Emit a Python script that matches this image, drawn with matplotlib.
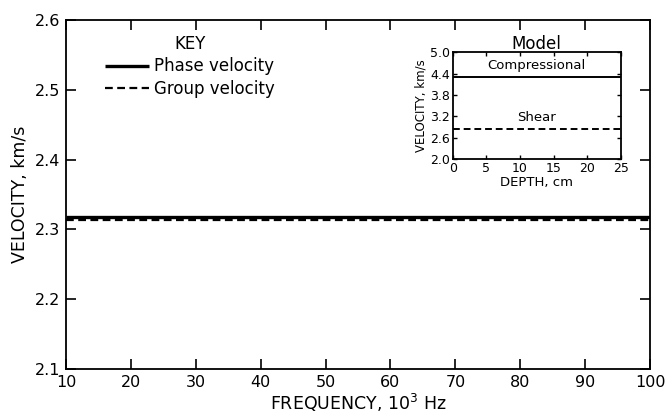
import matplotlib
matplotlib.use("Agg")
import matplotlib.pyplot as plt

plt.rcParams['font.family'] = ['DejaVu Sans']

# Main chart data
frequency = [10, 20, 30, 40, 50, 60, 70, 80, 90, 100]
phase_velocity = [2.318, 2.318, 2.318, 2.318, 2.318, 2.318, 2.318, 2.318, 2.318, 2.318]
group_velocity = [2.314, 2.314, 2.314, 2.314, 2.314, 2.314, 2.314, 2.314, 2.314, 2.314]
x_ticks = [10, 20, 30, 40, 50, 60, 70, 80, 90, 100]
y_ticks = [2.1, 2.2, 2.3, 2.4, 2.5, 2.6]

# Inset model data
depth = [0, 25]
compressional = [4.30, 4.30]
shear = [2.83, 2.83]
inset_x_ticks = [0, 5, 10, 15, 20, 25]
inset_y_ticks = [2.0, 2.6, 3.2, 3.8, 4.4, 5.0]

fig = plt.figure(figsize=(6.66, 4.19), dpi=100)
ax = fig.add_axes([0.0991, 0.1193, 0.877, 0.833])

ax.plot(frequency, phase_velocity, color='black', lw=3.0, solid_capstyle='butt', label='Phase velocity')
ax.plot(frequency, group_velocity, color='black', lw=1.6, ls=(0, (3.5, 2)), label='Group velocity')
ax.set_xlim(10, 100)
ax.set_ylim(2.1, 2.6)
ax.set_xticks(x_ticks)
ax.set_yticks(y_ticks)
ax.set_yticklabels([f"{v:.1f}" for v in y_ticks])
ax.tick_params(direction='in', length=7, width=1.2, labelsize=11.5, top=True, right=True, pad=4)
for s in ax.spines.values():
    s.set_linewidth(1.3)
ax.set_xlabel('FREQUENCY, 10$^3$ Hz', fontsize=12.5, labelpad=2)
ax.set_ylabel('VELOCITY, km/s', fontsize=12.5, labelpad=4)

handles, labels = ax.get_legend_handles_labels()
handles[0].set_linewidth(2.4)
leg = ax.legend(handles, labels, title='KEY', loc='upper left', bbox_to_anchor=(0.05, 0.985),
                frameon=False, fontsize=12, title_fontsize=12, handlelength=2.6,
                handletextpad=0.35, labelspacing=0.25, borderaxespad=0.2)

# Inset
ins = fig.add_axes([0.680, 0.6205, 0.252, 0.255])
ins.plot(depth, compressional, color='black', lw=1.4)
ins.plot(depth, shear, color='black', lw=1.4, ls=(0, (3.5, 2)))
ins.set_xlim(0, 25)
ins.set_ylim(2.0, 5.0)
ins.set_xticks(inset_x_ticks)
ins.set_yticks(inset_y_ticks)
ins.set_yticklabels([f"{v:.1f}" for v in inset_y_ticks])
ins.tick_params(direction='in', length=3, width=1, labelsize=9, top=True, right=True, pad=2)
for s in ins.spines.values():
    s.set_linewidth(1.3)
ins.set_xlabel('DEPTH, cm', fontsize=9.5, labelpad=1)
ins.set_ylabel('VELOCITY, km/s', fontsize=8.5, labelpad=2)
ins.set_title('Model', fontsize=12, pad=2)
ins.text(12.5, 4.45, 'Compressional', ha='center', va='bottom', fontsize=9.5)
ins.text(12.5, 2.98, 'Shear', ha='center', va='bottom', fontsize=9.5)

fig.savefig('out.png', dpi=100)
